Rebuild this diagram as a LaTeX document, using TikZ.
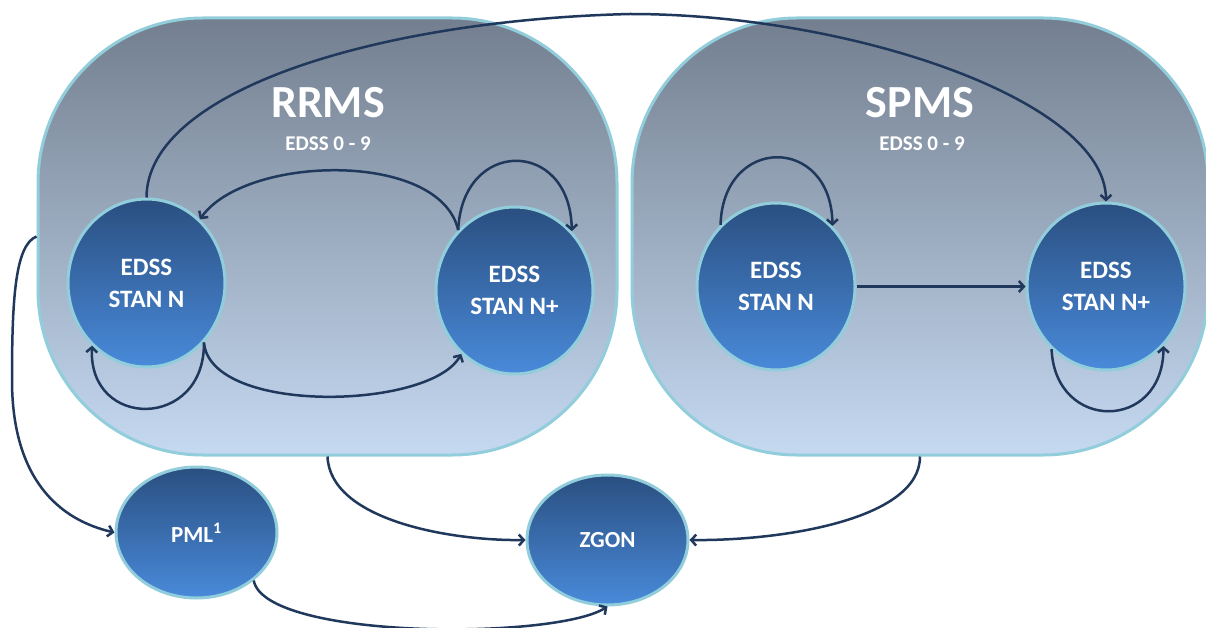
\documentclass[tikz,border=0pt]{standalone}
\usepackage{fontspec}
\setmainfont{Carlito}
\usetikzlibrary{shapes.geometric,arrows.meta}
\definecolor{boxtop}{RGB}{115,127,143}
\definecolor{boxbot}{RGB}{197,217,241}
\definecolor{rim}{RGB}{146,205,220}
\definecolor{ctop}{RGB}{42,79,128}
\definecolor{cbot}{RGB}{73,138,218}
\definecolor{arr}{RGB}{31,56,92}
\begin{document}
\begin{tikzpicture}[x=1pt,y=-1pt,
  groupbox/.style={draw=rim,line width=3pt,rounded corners=165pt,top color=boxtop,bottom color=boxbot,inner sep=0pt},
  statenode/.style={ellipse,draw=rim,line width=3pt,top color=ctop,bottom color=cbot,inner sep=0pt,text=white,align=center,font=\bfseries\fontsize{25}{32}\selectfont},
  endnode/.style={statenode,font=\bfseries\fontsize{23}{28}\selectfont},
  title/.style={text=white,font=\bfseries\fontsize{46}{50}\selectfont,inner sep=0pt},
  subtitle/.style={text=white,font=\bfseries\fontsize{21}{24}\selectfont,inner sep=0pt},
  flow/.style={draw=arr,line width=2.5pt,-{Straight Barb[length=5pt,width=11pt]}}]
\useasboundingbox (0,0) rectangle (1206,628);
\fill[white] (0,0) rectangle (1206,628);
% group boxes
\node[groupbox,minimum width=579pt,minimum height=437pt] (rr) at (327.5,236.5) {};
\node[groupbox,minimum width=576pt,minimum height=437pt] (sp) at (920,236.5) {};
\node[title] (rrt) at (328,103) {RRMS};
\node[subtitle] (rrs) at (328,144) {EDSS 0 - 9};
\node[title] (spt) at (920,103) {SPMS};
\node[subtitle] (sps) at (922,144) {EDSS 0 - 9};
% states
\node[statenode,minimum width=157pt,minimum height=168pt] (rn) at (146.5,283) {EDSS\\STAN N};
\node[statenode,minimum width=157pt,minimum height=167pt] (rnp) at (514.5,290.5) {EDSS\\STAN N+};
\node[statenode,minimum width=158pt,minimum height=167pt] (sn) at (776,286.5) {EDSS\\STAN N};
\node[statenode,minimum width=158pt,minimum height=167pt] (snp) at (1106,286.5) {EDSS\\STAN N+};
\node[endnode,minimum width=161pt,minimum height=131pt] (pml) at (196.5,532.5) {PML\textsuperscript{1}};
\node[endnode,minimum width=161pt,minimum height=130pt] (zg) at (607.5,540) {ZGON};
% connectors
\coordinate (peak) at (630,14);
\coordinate (leftbend) at (12,380);
\draw[flow] (rn.north) .. controls (147,90) and (380,20) .. (peak) .. controls (850,14) and (1105,100) .. (snp.north);
\draw[flow] (rnp.133) .. controls (440,150) and (245,155) .. (rn.50);
\draw[flow] (rnp.133) .. controls (462,138) and (570,138) .. (rnp.46);
\draw[flow] (rn.-46) .. controls (205,430) and (88,430) .. (rn.229);
\draw[flow] (rn.-46) .. controls (210,415) and (430,410) .. (rnp.230);
\draw[flow] (sn.132) .. controls (723,135) and (831,135) .. (sn.47);
\draw[flow] (sn.east) -- (snp.west);
\draw[flow] (snp.229) .. controls (1055,432) and (1163,432) .. (snp.314);
\draw[flow] (rr.west) .. controls (15,245) and (12,300) .. (leftbend) .. controls (12,480) and (60,520) .. (pml.west);
\draw[flow] (rr.south) .. controls (330,520) and (450,541) .. (zg.west);
\draw[flow] (sp.south) .. controls (920,520) and (780,541) .. (zg.east);
\draw[flow] (pml.320) .. controls (265,640) and (555,640) .. (zg.south);
\end{tikzpicture}
\end{document}
